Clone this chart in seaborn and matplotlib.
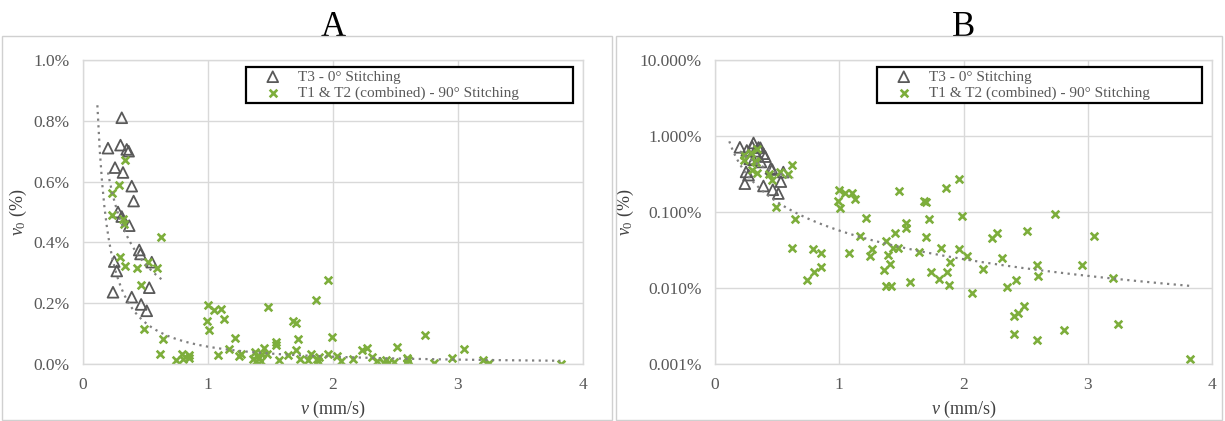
import numpy as np
import pandas as pd
import matplotlib
matplotlib.use("Agg")
import matplotlib.pyplot as plt
from matplotlib.ticker import FuncFormatter, FixedLocator
from matplotlib.patches import Rectangle
import seaborn as sns

# ---------------- data (v in mm/s, v0 in %) ----------------
t3_v = [0.31, 0.20, 0.30, 0.35, 0.365, 0.256, 0.32, 0.39, 0.405, 0.28, 0.31,
        0.37, 0.45, 0.46, 0.25, 0.55, 0.27, 0.53, 0.24, 0.39, 0.465, 0.51]
t3_v0 = [0.81, 0.71, 0.72, 0.706, 0.70, 0.646, 0.63, 0.585, 0.536, 0.50, 0.485,
         0.455, 0.375, 0.362, 0.337, 0.335, 0.306, 0.251, 0.236, 0.22, 0.196, 0.175]

t12_v = [0.34, 0.29, 0.235, 0.235, 0.32, 0.33, 0.62, 0.30, 0.34, 0.435, 0.52, 0.59,
         0.46, 0.49, 0.64, 0.617, 0.79, 0.85, 0.85, 0.80, 0.74,
         1.00, 1.05, 1.10, 1.13, 0.99, 1.01, 1.17, 1.08,
         1.48, 1.70, 1.68, 1.86, 1.96, 1.215, 1.72, 1.99, 1.54, 1.54, 1.45, 1.375,
         1.26, 1.25, 1.39, 1.41, 1.36, 1.43, 1.47, 1.64, 1.70, 1.82, 1.96, 1.89,
         2.03, 1.735, 1.80, 1.87, 1.88, 1.57, 1.38, 1.42, 2.065, 2.16, 2.23, 2.27,
         2.31, 2.35,
         2.735, 2.51, 3.05, 2.59, 2.95, 2.60, 3.20, 2.42, 2.49, 2.44, 2.405, 2.405,
         2.59, 2.81, 3.245, 3.82]
t12_v0 = [0.67, 0.59, 0.563, 0.49, 0.476, 0.46, 0.419, 0.353, 0.323, 0.315, 0.335, 0.317,
          0.26, 0.116, 0.082, 0.034, 0.033, 0.029, 0.019, 0.016, 0.0128,
          0.193, 0.178, 0.18, 0.147, 0.14, 0.112, 0.048, 0.029,
          0.189, 0.135, 0.14, 0.209, 0.275, 0.084, 0.081, 0.088, 0.072, 0.062, 0.053, 0.041,
          0.033, 0.026, 0.027, 0.0204, 0.017, 0.034, 0.034, 0.030, 0.047, 0.034, 0.033, 0.022,
          0.026, 0.016, 0.013, 0.016, 0.011, 0.012, 0.0107, 0.0107, 0.0087, 0.018, 0.045, 0.053,
          0.0245, 0.0103,
          0.095, 0.056, 0.049, 0.020, 0.020, 0.0145, 0.0137, 0.0126, 0.0058, 0.0047, 0.0043, 0.0025,
          0.0021, 0.0028, 0.0034, 0.00115]

# power-law trendlines: v0 = a * v^b, drawn over [x0, x1]
trend_t12 = dict(a=0.057, b=-1.25, x0=0.115, x1=3.82)
trend_t3 = dict(a=0.20, b=-0.713, x0=0.20, x1=0.63)

labels = ["T3 - 0\u00b0 Stitching", "T1 & T2 (combined) - 90\u00b0 Stitching"]
x_ticks = [0, 1, 2, 3, 4]
yticks_lin = [0.0, 0.2, 0.4, 0.6, 0.8, 1.0]
yticks_log = [0.001, 0.01, 0.1, 1.0, 10.0]
titles = ["A", "B"]

# ---------------- style ----------------
sns.set_style("white")
plt.rcParams["font.family"] = ["Liberation Serif", "DejaVu Serif"]
plt.rcParams["mathtext.fontset"] = "custom"
plt.rcParams["mathtext.rm"] = "Liberation Serif"
plt.rcParams["mathtext.it"] = "Liberation Serif:italic"

GRID = "#D9D9D9"
TXT = "#595959"
TRI = "#595959"
GRN = "#7DAE3C"

df_t3 = pd.DataFrame({"v": t3_v, "v0": t3_v0})
df_t12 = pd.DataFrame({"v": t12_v, "v0": t12_v0})


def trend_df(t):
    xs = np.linspace(t["x0"], t["x1"], 200)
    return pd.DataFrame({"v": xs, "v0": t["a"] * xs ** t["b"]})


fig = plt.figure(figsize=(12.25, 4.21), dpi=100)
W, H = 1225, 421

# chart-area borders
for (x0, x1) in [(2, 612), (616, 1222)]:
    fig.patches.append(Rectangle((x0 / W, 1 / H), (x1 - x0) / W, (385 - 1) / H,
                                 transform=fig.transFigure, fill=False,
                                 edgecolor="#D0D0D0", linewidth=1.0))

axA = fig.add_axes([83 / W, (H - 364) / H, 500 / W, 304 / H])
axB = fig.add_axes([715 / W, (H - 364) / H, 497 / W, 304 / H])

for ax, scale, title in [(axA, "linear", titles[0]), (axB, "log", titles[1])]:
    if scale == "log":
        ax.set_yscale("log")
    ax.set_axisbelow(True)
    ax.grid(True, color=GRID, linewidth=1.0)
    sns.lineplot(data=trend_df(trend_t12), x="v", y="v0", ax=ax, color="#808080",
                 linestyle=(0, (1, 2)), linewidth=1.6, legend=False)
    sns.lineplot(data=trend_df(trend_t3), x="v", y="v0", ax=ax, color="#808080",
                 linestyle=(0, (1, 2)), linewidth=1.6, legend=False)
    sns.scatterplot(data=df_t3, x="v", y="v0", ax=ax, marker="^", s=60,
                    facecolor="none", edgecolor=TRI, linewidth=1.3, label=labels[0])
    sns.scatterplot(data=df_t12, x="v", y="v0", ax=ax, marker="x", s=30,
                    color=GRN, linewidth=1.9, label=labels[1])
    ax.set_xlim(0, 4)
    ax.xaxis.set_major_locator(FixedLocator(x_ticks))
    if scale == "log":
        ax.set_ylim(0.001, 10)
        ax.yaxis.set_major_locator(FixedLocator(yticks_log))
        ax.yaxis.set_minor_locator(FixedLocator([]))
        ax.yaxis.set_major_formatter(FuncFormatter(lambda y, p: f"{y:.3f}%"))
    else:
        ax.set_ylim(0, 1.0)
        ax.yaxis.set_major_locator(FixedLocator(yticks_lin))
        ax.yaxis.set_major_formatter(FuncFormatter(lambda y, p: f"{y:.1f}%"))
    ax.xaxis.set_major_formatter(FuncFormatter(lambda x, p: f"{x:g}"))
    for s in ax.spines.values():
        s.set_color(GRID)
        s.set_linewidth(1.0)
    ax.tick_params(axis="both", length=0, labelsize=12.5, labelcolor=TXT, pad=9.5)
    ax.set_xlabel(r"$\mathit{v}$ (mm/s)", fontsize=13, color="#404040", labelpad=4)
    ax.set_ylabel(r"$\mathit{v_0}$ (%)", fontsize=13, color="#404040", labelpad=3)
    ax.set_title(title, fontsize=25, color="black", pad=17)
    leg = ax.legend(loc="upper left", bbox_to_anchor=(0.326, 0.977, 0.654, 0.0),
                    mode="expand", frameon=True, fancybox=False, framealpha=1,
                    edgecolor="black", fontsize=11, handletextpad=0.1,
                    borderpad=0.2, labelspacing=0.15, handlelength=3.1,
                    borderaxespad=0)
    leg.get_frame().set_linewidth(1.6)
    for t in leg.get_texts():
        t.set_color(TXT)

fig.savefig("out.png", dpi=100)
